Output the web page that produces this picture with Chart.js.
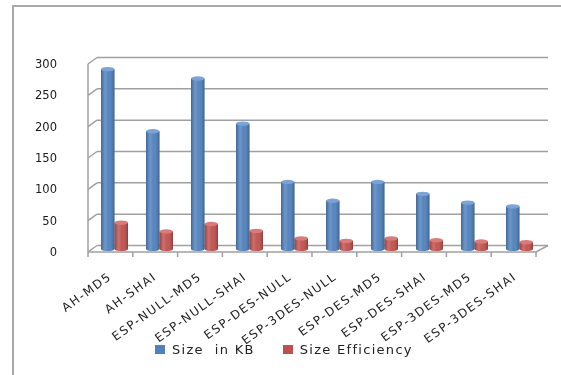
<!DOCTYPE html>
<html>
<head>
<meta charset="utf-8">
<script src="https://cdn.jsdelivr.net/npm/chart.js@4.4.1/dist/chart.umd.min.js"></script>
<style>
  html, body { margin: 0; padding: 0; background: #fff; }
  #wrap { position: relative; width: 561px; height: 375px; overflow: hidden; background: #fff; }
  #frame { position: absolute; left: 12px; top: 5px; width: 620px; height: 420px;
           border-left: 2px solid #a9a9a9; border-top: 2px solid #a9a9a9; box-sizing: border-box; }
  #chart { position: absolute; left: 0; top: 0; }
  #legend { position: absolute; left: 155px; top: 342px; display: flex; align-items: center;
            font: 13px "DejaVu Sans", sans-serif; letter-spacing: 1.3px; color: #222; white-space: pre; }
  #legend .sw { display: inline-block; width: 10px; height: 9px; margin-right: 7px; }
  #legend .item { display: flex; align-items: center; margin-right: 28px; }
</style>
</head>
<body>
<div id="wrap">
  <div id="frame"></div>
  <canvas id="chart" width="561" height="375"></canvas>
  <div id="legend"></div>
</div>
<script>
// Protocol / algorithm combinations
const categories = ['AH-MD5', 'AH-SHAI', 'ESP-NULL-MD5', 'ESP-NULL-SHAI', 'ESP-DES-NULL',
                    'ESP-3DES-NULL', 'ESP-DES-MD5', 'ESP-DES-SHAI', 'ESP-3DES-MD5', 'ESP-3DES-SHAI'];
const sizeInKB = [287, 188, 272, 200, 107, 77, 107, 88, 74, 68];
const sizeEfficiency = [42, 28, 40, 29, 17, 13, 17, 14, 12, 11];
const seriesNames = ['Size  in KB', 'Size Efficiency'];
const yTicks = [0, 50, 100, 150, 200, 250, 300];

const BLUE = '#4f81bd';
const RED = '#c0504d';
const CAP = ['#7aa3d6', '#d97b78'];
const GRID = '#a0a0a0';

// Pseudo-3D frame: back wall, floor and front axes around the bars
const wallPlugin = {
  id: 'wall',
  beforeDatasetsDraw(chart) {
    const { ctx, chartArea: a, scales: { x, y } } = chart;
    ctx.save();
    ctx.strokeStyle = GRID;
    ctx.lineWidth = 1.5;
    const backL = a.left + 5, backR = a.right + 6;
    const frontL = a.left - 4, frontR = a.right - 6;
    // back-wall gridlines
    yTicks.forEach(v => {
      const py = y.getPixelForValue(v);
      ctx.beginPath();
      ctx.moveTo(backL, py - 3.5);
      ctx.lineTo(backR, py - 3.5);
      ctx.stroke();
      // connector from front axis to back wall
      ctx.beginPath();
      ctx.moveTo(frontL, py + 3);
      ctx.lineTo(backL, py - 3.5);
      ctx.stroke();
    });
    // front vertical axis
    ctx.beginPath();
    ctx.moveTo(frontL, y.getPixelForValue(300) + 3);
    ctx.lineTo(frontL, y.getPixelForValue(0) + 3);
    ctx.stroke();
    // front floor edge with category tick marks
    const fy = y.getPixelForValue(0) + 3;
    ctx.beginPath();
    ctx.moveTo(frontL, fy);
    ctx.lineTo(frontR, fy);
    ctx.lineTo(backR, fy - 6.5);
    ctx.stroke();
    const n = categories.length;
    for (let i = 0; i <= n; i++) {
      const tx = frontL + i * (frontR - frontL) / n;
      ctx.beginPath();
      ctx.moveTo(tx, fy);
      ctx.lineTo(tx, fy + 5);
      ctx.stroke();
    }
    ctx.restore();
  },
  afterDatasetsDraw(chart) {
    const ctx = chart.ctx;
    ctx.save();
    chart.data.datasets.forEach((ds, di) => {
      const meta = chart.getDatasetMeta(di);
      meta.data.forEach(bar => {
        const { x, y, base, width } = bar.getProps(['x', 'y', 'base', 'width'], true);
        const l = x - width / 2;
        const g = ctx.createLinearGradient(l, 0, l + width, 0);
        g.addColorStop(0, 'rgba(0,0,0,0.2)');
        g.addColorStop(0.3, 'rgba(255,255,255,0.18)');
        g.addColorStop(0.55, 'rgba(255,255,255,0.04)');
        g.addColorStop(1, 'rgba(0,0,0,0.25)');
        // rounded bottom
        ctx.beginPath();
        ctx.ellipse(x, base, width / 2, 2, 0, 0, Math.PI);
        ctx.fillStyle = ds.backgroundColor;
        ctx.fill();
        ctx.fillStyle = g;
        ctx.fill();
        ctx.fillRect(l, y, width, base - y);
        // top cap
        ctx.beginPath();
        ctx.ellipse(x, y, width / 2, 2.2, 0, 0, Math.PI * 2);
        ctx.fillStyle = CAP[di];
        ctx.fill();
      });
    });
    ctx.restore();
    // category labels are drawn after this point with wider tracking
    chart.ctx.letterSpacing = '1.5px';
  },
  afterDraw(chart) {
    chart.ctx.letterSpacing = '0px';
  }
};

const chart = new Chart(document.getElementById('chart'), {
  type: 'bar',
  data: {
    labels: categories,
    datasets: [
      { label: seriesNames[0], data: sizeInKB, backgroundColor: BLUE,
        categoryPercentage: 0.6, barPercentage: 1.0 },
      { label: seriesNames[1], data: sizeEfficiency, backgroundColor: RED,
        categoryPercentage: 0.6, barPercentage: 1.0 }
    ]
  },
  options: {
    responsive: false,
    animation: false,
    layout: { padding: { top: 61, right: 19, left: 0, bottom: 0 } },
    plugins: { legend: { display: false }, tooltip: { enabled: false } },
    scales: {
      x: {
        grid: { display: false },
        border: { display: false },
        afterFit(scale) { scale.height = 126; },
        ticks: {
          z: 1, autoSkip: false, minRotation: 36, maxRotation: 36, padding: 13, labelOffset: -4,
          color: '#222', font: { family: 'DejaVu Sans', size: 12 }
        }
      },
      y: {
        min: 0, max: 300,
        grid: { display: false },
        border: { display: false },
        afterFit(scale) { scale.width = 92; },
        afterBuildTicks(scale) { scale.ticks = yTicks.map(v => ({ value: v })); },
        ticks: {
          padding: 27, labelOffset: 4,
          color: '#1a1a1a', font: { family: 'DejaVu Sans', size: 11.5 }
        }
      }
    }
  },
  plugins: [wallPlugin]
});

// legend
const legend = document.getElementById('legend');
chart.data.datasets.forEach(ds => {
  const item = document.createElement('span');
  item.className = 'item';
  const sw = document.createElement('span');
  sw.className = 'sw';
  sw.style.background = ds.backgroundColor;
  const tx = document.createElement('span');
  tx.textContent = ds.label;
  item.appendChild(sw);
  item.appendChild(tx);
  legend.appendChild(item);
});
</script>
</body>
</html>
